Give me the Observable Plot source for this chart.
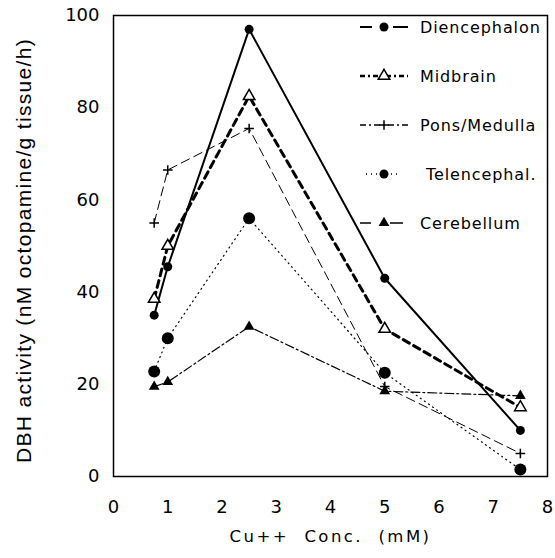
<!DOCTYPE html>
<html>
<head>
<meta charset="utf-8">
<script src="https://cdn.jsdelivr.net/npm/d3@7"></script>
<script src="https://cdn.jsdelivr.net/npm/@observablehq/plot@0.6"></script>
<style>
  html, body { margin: 0; padding: 0; background: white; }
  #chart { position: relative; width: 555px; height: 558px; }
  #legend { position: absolute; left: 0; top: 0; pointer-events: none; }
</style>
</head>
<body>
<div id="chart"></div>
<script>
// ---- data ----
const conc = [0.75, 1, 2.5, 5, 7.5];
const diencephalon = [35, 45.5, 97, 43, 10];
const midbrain = [38.5, 50, 82.5, 32, 15];
const ponsMedulla = [55, 66.5, 75.5, 19.5, 5];
const telencephal = [22.8, 30, 56, 22.5, 1.5];
const cerebellum = [19.5, 20.5, 32.5, 18.5, 17.5];
const seriesNames = ["Diencephalon", "Midbrain", "Pons/Medulla", "Telencephal.", "Cerebellum"];
const xTicks = [0, 1, 2, 3, 4, 5, 6, 7, 8];
const yTicks = [0, 20, 40, 60, 80, 100];
const xLabel = "Cu++\u00a0\u00a0Conc.\u00a0\u00a0(mM)";
const yLabel = "DBH activity (nM octopamine/g tissue/h)";

// ---- styles ----
const styles = {
  "Diencephalon": {width: 2, dash: null, symbol: "circle", r: 4.5, fill: "black", stroke: "none", legendDash: "12,21,15"},
  "Midbrain": {width: 3, dash: "7,5", symbol: "triangle", r: 4.3, fill: "white", stroke: "black", legendDash: "5,3,2,3", legendWidth: 2.5},
  "Pons/Medulla": {width: 1, dash: "9,5", symbol: "plus", r: 3.2, fill: "none", stroke: "black", legendDash: "6,3,2,3"},
  "Telencephal.": {width: 1.2, dash: "1,4", symbol: "circle", r: 6, fill: "black", stroke: "none", legendDash: "1,4", legendR: 4.5},
  "Cerebellum": {width: 1.2, dash: "9,3,2,3", symbol: "triangle", r: 4, fill: "black", stroke: "none", legendDash: "11,19,13"}
};
const values = [diencephalon, midbrain, ponsMedulla, telencephal, cerebellum];
const table = seriesNames.map((name, i) => conc.map((c, j) => ({series: name, x: c, y: values[i][j]})));

const tickFont = "DejaVu Sans";
const lineMarks = [];
const dotMarks = [];
table.forEach((rows, i) => {
  const s = styles[seriesNames[i]];
  lineMarks.push(Plot.line(rows, {x: "x", y: "y", stroke: "black", strokeWidth: s.width, strokeDasharray: s.dash || undefined, strokeLinejoin: "miter"}));
  dotMarks.push(Plot.dot(rows, {x: "x", y: "y", symbol: () => s.symbol, r: s.r, fill: s.fill, stroke: s.stroke, strokeWidth: 1.5}));
});

const chart = Plot.plot({
  width: 555, height: 558,
  marginLeft: 113, marginRight: 8, marginTop: 15, marginBottom: 82,
  x: {domain: [0, 8]},
  y: {domain: [0, 100]},
  style: {fontFamily: tickFont, background: "white", color: "black"},
  marks: [
    Plot.axisX({ticks: xTicks, tickSize: 0, tickPadding: 24, fontSize: 18, label: null}),
    Plot.axisY({ticks: yTicks, tickSize: 0, tickPadding: 14, fontSize: 18, label: null}),
    ...lineMarks,
    ...dotMarks,
    Plot.frame({stroke: "black", strokeWidth: 1.5}),
    Plot.text([xLabel], {frameAnchor: "bottom", textAnchor: "middle", dy: 65, fontSize: 16.5}),
    Plot.text([yLabel], {frameAnchor: "left", textAnchor: "middle", rotate: -90, dx: -89, dy: 4.5, fontSize: 21, fontFamily: "Liberation Sans"})
  ]
});
document.getElementById("chart").appendChild(chart);

function spreadTo(content, target) {
  const node = Array.from(chart.querySelectorAll("text")).find(t => t.textContent === content);
  if (!node) return;
  const n = node.textContent.length;
  const natural = node.getComputedTextLength();
  const ls = (target - natural) / n;
  node.style.letterSpacing = ls + "px";
}
spreadTo(yLabel, 425);
spreadTo(xLabel, 202);

// ---- legend (inside frame, top right) ----
const leg = d3.select("#chart").append("svg").attr("id", "legend").attr("width", 555).attr("height", 558);
const legTop = 27, legStep = 49, lineX0 = 360, lineX1 = 408, symX = 384, labelX = 420;
seriesNames.forEach((name, i) => {
  const s = styles[name];
  const y = legTop + i * legStep;
  const g = leg.append("g");
  g.append("line").attr("x1", name === "Telencephal." ? 366 : lineX0).attr("x2", name === "Telencephal." ? 400 : lineX1)
    .attr("y1", y).attr("y2", y).attr("stroke", "black")
    .attr("stroke-width", s.legendWidth || Math.max(1.3, s.width)).attr("stroke-dasharray", s.legendDash);
  const sym = {circle: d3.symbolCircle, triangle: d3.symbolTriangle, plus: d3.symbolPlus}[s.symbol];
  const r = s.legendR || s.r;
  g.append("path").attr("d", d3.symbol(sym, Math.PI * r * r)()).attr("transform", `translate(${symX},${y})`)
    .attr("fill", s.fill).attr("stroke", s.stroke).attr("stroke-width", 1.5);
  g.append("text").attr("x", name === "Telencephal." ? labelX + 6 : labelX).attr("y", y).attr("dy", "0.35em")
    .attr("font-family", tickFont).attr("font-size", 16).attr("letter-spacing", 0.9).attr("fill", "black").text(name);
});
</script>
</body>
</html>
